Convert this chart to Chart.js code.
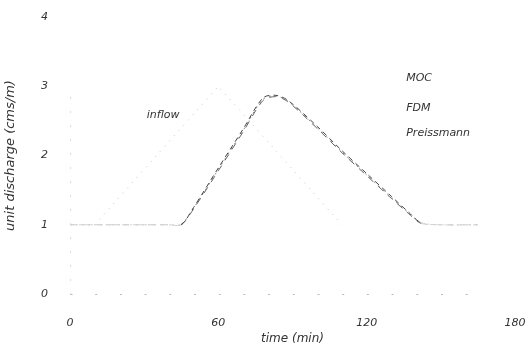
<!DOCTYPE html>
<html>
<head>
<meta charset="utf-8">
<script src="https://cdn.jsdelivr.net/npm/chart.js@4"></script>
<style>
html,body{margin:0;padding:0;background:#fff;}
#wrap{width:527px;height:352px;}
</style>
</head>
<body>
<div id="wrap"><canvas id="chart" width="527" height="352"></canvas></div>
<script>
// time (min) / unit discharge (cms/m)
let inflowT = [0, 10, 60, 110, 170];
let inflowQ = [1, 1, 3, 1, 1];

let outT = [0, 40, 45, 50, 60, 70, 78, 83, 88, 100, 110, 120, 130, 137, 142, 150, 165];
let mocQ = [1, 1, 1.0, 1.25, 1.82, 2.38, 2.83, 2.87, 2.8, 2.42, 2.07, 1.74, 1.41, 1.18, 1.03, 1, 1];
let fdmQ = [1, 1, 1.01, 1.24, 1.8, 2.36, 2.81, 2.86, 2.79, 2.4, 2.05, 1.72, 1.39, 1.17, 1.03, 1, 1];
let preQ = [1, 1, 1.0, 1.23, 1.78, 2.34, 2.79, 2.85, 2.78, 2.39, 2.04, 1.71, 1.38, 1.16, 1.02, 1, 1];

let seriesNames = ["MOC", "FDM", "Preissmann"];
let xTicks = [0, 60, 120, 180];
let yTicks = [0, 1, 2, 3, 4];

function pts(t, q){
  return t.map(function(v, i){ return {x: v, y: q[i]}; });
}

// text labels placed in data units
let notes = [
  {text: "inflow", x: 31, y: 2.59},
  {text: seriesNames[0], x: 136, y: 3.11},
  {text: seriesNames[1], x: 136, y: 2.69},
  {text: seriesNames[2], x: 136, y: 2.32}
];

const notePlugin = {
  id: "notes",
  beforeDatasetsDraw(chart){
    // faint dotted axes, like the scan
    let ctx = chart.ctx;
    let xs = chart.scales.x, ys = chart.scales.y;
    let x0 = Math.round(xs.getPixelForValue(0)) + 0.5;
    let y0 = Math.round(ys.getPixelForValue(0)) + 0.5;
    ctx.save();
    ctx.strokeStyle = "#b8b8b8";
    ctx.lineWidth = 1;
    ctx.setLineDash([1, 13]);
    ctx.beginPath();
    ctx.moveTo(x0, y0);
    ctx.lineTo(x0, ys.getPixelForValue(3));
    ctx.stroke();
    ctx.setLineDash([2, 22.7]);
    ctx.beginPath();
    ctx.moveTo(x0, y0);
    ctx.lineTo(xs.getPixelForValue(165), y0);
    ctx.stroke();
    ctx.restore();
  },
  afterDatasetsDraw(chart){
    let ctx = chart.ctx;
    let xs = chart.scales.x, ys = chart.scales.y;
    ctx.save();
    ctx.font = "italic 11px 'DejaVu Sans', sans-serif";
    ctx.fillStyle = "#333";
    ctx.textBaseline = "middle";
    ctx.textAlign = "left";
    notes.forEach(function(n){
      ctx.fillText(n.text, xs.getPixelForValue(n.x), ys.getPixelForValue(n.y));
    });
    ctx.restore();
  }
};

let tickFont = {family: "'DejaVu Sans', sans-serif", size: 11, style: "italic"};

// the flat base flow is mostly faded out in the scan
function fade(dark){
  return function(c){
    return (c.p0.parsed.y < 1.05 && c.p1.parsed.y < 1.05) ? "#d2d2d2" : dark;
  };
}

new Chart(document.getElementById("chart"), {
  type: "line",
  data: {
    datasets: [
      {label: "inflow", data: pts(inflowT, inflowQ), borderColor: "#c4c4c4", borderWidth: 1, borderDash: [1, 6], pointRadius: 0, tension: 0,
        segment: {borderColor: function(c){ return (c.p0.parsed.y < 1.05 && c.p1.parsed.y < 1.05) ? "rgba(0,0,0,0)" : undefined; }}},
      {label: seriesNames[0], data: pts(outT, mocQ), borderColor: "#444", borderWidth: 1, borderDash: [5, 4], pointRadius: 0, tension: 0.3, segment: {borderColor: fade("#444")}},
      {label: seriesNames[1], data: pts(outT, fdmQ), borderColor: "#8a8a8a", borderWidth: 1, borderDash: [2, 4], pointRadius: 0, tension: 0.3, segment: {borderColor: fade("#8a8a8a")}},
      {label: seriesNames[2], data: pts(outT, preQ), borderColor: "#666", borderWidth: 1, borderDash: [7, 6], pointRadius: 0, tension: 0.3, segment: {borderColor: fade("#666")}}
    ]
  },
  options: {
    responsive: false,
    animation: false,
    layout: {padding: {left: 0, right: 12, top: 17, bottom: 0}},
    plugins: {legend: {display: false}, tooltip: {enabled: false}},
    scales: {
      x: {
        type: "linear", min: 0, max: 180,
        afterBuildTicks: function(s){ s.ticks = xTicks.map(function(v){ return {value: v}; }); },
        afterFit: function(s){ s.height = 58; s.paddingLeft = 0; s.paddingRight = 0; },
        grid: {display: false, drawTicks: false},
        border: {display: false},
        ticks: {padding: 23, color: "#333", font: tickFont, maxRotation: 0},
        title: {display: true, text: "time (min)", color: "#333", font: {family: "'DejaVu Sans', sans-serif", size: 12, style: "italic"}, padding: {top: 0, bottom: 6}}
      },
      y: {
        min: 0, max: 4,
        afterBuildTicks: function(s){ s.ticks = yTicks.map(function(v){ return {value: v}; }); },
        afterFit: function(s){ s.width = 70; s.paddingTop = 0; s.paddingBottom = 0; },
        grid: {display: false, drawTicks: false},
        border: {display: false},
        ticks: {padding: 22, color: "#333", font: tickFont},
        title: {display: true, text: "unit discharge (cms/m)", color: "#333", font: {family: "'DejaVu Sans', sans-serif", size: 13, style: "italic"}, padding: {top: 3, bottom: 0}}
      }
    }
  },
  plugins: [notePlugin]
});
</script>
</body>
</html>
